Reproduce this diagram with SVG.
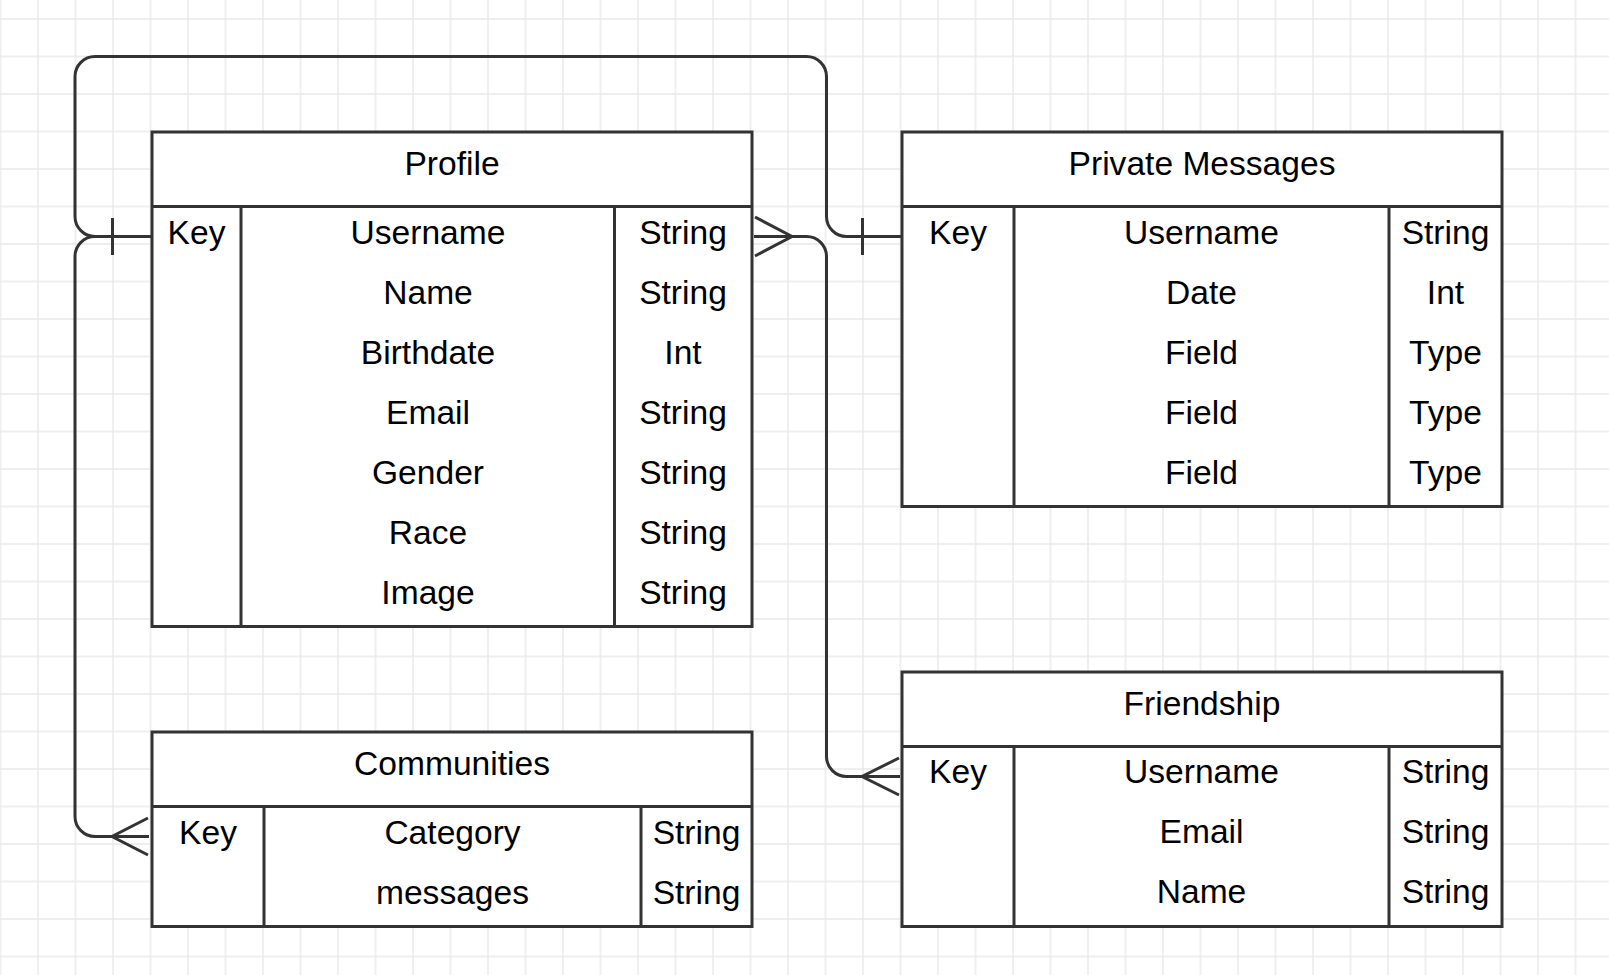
<svg xmlns="http://www.w3.org/2000/svg" width="1609" height="975" viewBox="0 0 1609 975">
<defs>
<pattern id="grid" x="-18.25" y="0.25" width="37.5" height="37.5" patternUnits="userSpaceOnUse">
<path d="M18.75 0V37.5M0 18.75H37.5" stroke="#e9e9e9" stroke-width="1.4" fill="none"/>
</pattern>
<style>
.box{fill:#fff;stroke:#333;stroke-width:3}
.ln{fill:none;stroke:#333;stroke-width:3}
.t{font-family:"Liberation Sans",Arial,sans-serif;font-size:33.6px;fill:#000;text-anchor:middle}
</style>
</defs>
<rect x="0" y="0" width="1609" height="975" fill="#fff"/>
<rect x="0" y="0" width="1609" height="975" fill="url(#grid)"/>

<g id="connectors">
<path class="ln" d="M152 236.5H95A20 20 0 0 1 75 216.5V76.5A20 20 0 0 1 95 56.5H806.5A20 20 0 0 1 826.5 76.5V216.5A20 20 0 0 0 846.5 236.5H902"/>
<path class="ln" d="M112.5 218V255M862.5 218V255"/>
<path class="ln" d="M754 236.5H806.5A20 20 0 0 1 826.5 256.5V756.5A20 20 0 0 0 846.5 776.5H900"/>
<path class="ln" d="M755 217L792 236.5L755 256"/>
<path class="ln" d="M899 758L862 776.5L899 795"/>
<path class="ln" d="M95 236.5A20 20 0 0 0 75 256.5V816.5A20 20 0 0 0 95 836.5H149"/>
<path class="ln" d="M148 818L112 836.5L148 855"/>
</g>

<g id="profile">
<rect class="box" x="152" y="132" width="600" height="494.5"/>
<path class="ln" d="M152 206.5H752M241 206.5V626.5M614.5 206.5V626.5"/>
<text class="t" x="452" y="175">Profile</text>
<text class="t" x="196.5" y="243.5">Key</text>
<text class="t" x="428" y="243.5">Username</text>
<text class="t" x="428" y="303.5">Name</text>
<text class="t" x="428" y="363.5">Birthdate</text>
<text class="t" x="428" y="423.5">Email</text>
<text class="t" x="428" y="483.5">Gender</text>
<text class="t" x="428" y="543.5">Race</text>
<text class="t" x="428" y="603.5">Image</text>
<text class="t" x="683" y="243.5">String</text>
<text class="t" x="683" y="303.5">String</text>
<text class="t" x="683" y="363.5">Int</text>
<text class="t" x="683" y="423.5">String</text>
<text class="t" x="683" y="483.5">String</text>
<text class="t" x="683" y="543.5">String</text>
<text class="t" x="683" y="603.5">String</text>
</g>

<g id="private-messages">
<rect class="box" x="902" y="132" width="600" height="374.5"/>
<path class="ln" d="M902 206.5H1502M1014 206.5V506.5M1389 206.5V506.5"/>
<text class="t" x="1202" y="175">Private Messages</text>
<text class="t" x="958" y="243.5">Key</text>
<text class="t" x="1201.5" y="243.5">Username</text>
<text class="t" x="1201.5" y="303.5">Date</text>
<text class="t" x="1201.5" y="363.5">Field</text>
<text class="t" x="1201.5" y="423.5">Field</text>
<text class="t" x="1201.5" y="483.5">Field</text>
<text class="t" x="1445.5" y="243.5">String</text>
<text class="t" x="1445.5" y="303.5">Int</text>
<text class="t" x="1445.5" y="363.5">Type</text>
<text class="t" x="1445.5" y="423.5">Type</text>
<text class="t" x="1445.5" y="483.5">Type</text>
</g>

<g id="friendship">
<rect class="box" x="902" y="672" width="600" height="254.5"/>
<path class="ln" d="M902 746.5H1502M1014 746.5V926.5M1389 746.5V926.5"/>
<text class="t" x="1202" y="715">Friendship</text>
<text class="t" x="958" y="783">Key</text>
<text class="t" x="1201.5" y="783">Username</text>
<text class="t" x="1201.5" y="843">Email</text>
<text class="t" x="1201.5" y="903">Name</text>
<text class="t" x="1445.5" y="783">String</text>
<text class="t" x="1445.5" y="843">String</text>
<text class="t" x="1445.5" y="903">String</text>
</g>

<g id="communities">
<rect class="box" x="152" y="732" width="600" height="194.5"/>
<path class="ln" d="M152 806.5H752M264 806.5V926.5M641 806.5V926.5"/>
<text class="t" x="452" y="775">Communities</text>
<text class="t" x="208" y="843.5">Key</text>
<text class="t" x="452.5" y="843.5">Category</text>
<text class="t" x="452.5" y="903.5">messages</text>
<text class="t" x="696.5" y="843.5">String</text>
<text class="t" x="696.5" y="903.5">String</text>
</g>
</svg>
